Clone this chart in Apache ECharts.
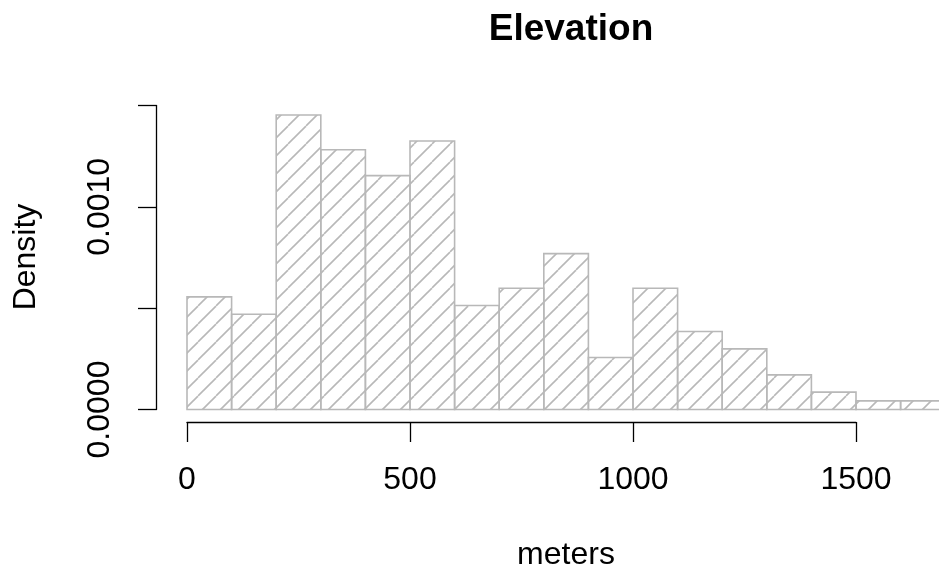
<!DOCTYPE html>
<html>
<head>
<meta charset="utf-8">
<style>
  html, body { margin: 0; padding: 0; background: #ffffff; }
  #chart { width: 939px; height: 573px; }
</style>
<script src="https://cdn.jsdelivr.net/npm/echarts@6/dist/echarts.min.js"></script>
</head>
<body>
<div id="chart"></div>
<script>
// ---- data ----
const breaks = [0, 100, 200, 300, 400, 500, 600, 700, 800, 900, 1000, 1100, 1200, 1300, 1400, 1500, 1600, 1700];
const density = [0.0005556, 0.0004701, 0.001453, 0.001282, 0.001154, 0.001325, 0.0005128, 0.0005983,
                 0.0007692, 0.0002564, 0.0005983, 0.0003846, 0.0002991, 0.0001709, 0.0000855, 0.0000427, 0.0000427];
const xTicks = [0, 500, 1000, 1500];
const yTicks = [0, 0.0005, 0.0010, 0.0015];
const yLabelled = [0, 0.0010];
const titleText = 'Elevation';
const xName = 'meters';
const yName = 'Density';

const FONT = '"Liberation Sans", Arial, Helvetica, sans-serif';

// hatch pattern
function makeHatch() {
  const s = 18;
  const c = document.createElement('canvas');
  c.width = s; c.height = s;
  const g = c.getContext('2d');
  g.strokeStyle = '#b8b8b8';
  g.lineWidth = 1.6;
  for (let k = -1; k <= 1; k++) {
    g.beginPath();
    g.moveTo(k * s, s);
    g.lineTo(k * s + s, 0);
    g.stroke();
  }
  return c;
}
const hatch = { image: makeHatch(), repeat: 'repeat' };

const rows = density.map((d, i) => [breaks[i], breaks[i + 1], d]);

const chart = echarts.init(document.getElementById('chart'), null, { renderer: 'canvas' });
chart.setOption({
  animation: false,
  backgroundColor: '#ffffff',
  title: {
    text: titleText,
    left: 566, top: 24.5,
    textAlign: 'center', textVerticalAlign: 'middle',
    textStyle: { fontFamily: FONT, fontWeight: 'bold', fontSize: 37, color: '#000' }
  },
  grid: { left: 187, width: 669, top: 105.5, height: 304, containLabel: false },
  xAxis: {
    type: 'value', min: xTicks[0], max: xTicks[xTicks.length - 1], interval: 500,
    offset: 12.5,
    axisLine: { show: true, onZero: false, lineStyle: { color: '#000', width: 1.3 } },
    axisTick: { show: true, length: 20, lineStyle: { color: '#000', width: 1.3 } },
    axisLabel: { margin: 42.5, fontFamily: FONT, fontSize: 32, color: '#000',
                 formatter: v => String(v) },
    splitLine: { show: false }
  },
  yAxis: {
    type: 'value', min: yTicks[0], max: yTicks[yTicks.length - 1], interval: 0.0005,
    offset: 31,
    axisLine: { show: true, onZero: false, lineStyle: { color: '#000', width: 1.3 } },
    axisTick: { show: true, length: 18, lineStyle: { color: '#000', width: 1.3 } },
    axisLabel: {
      rotate: 90, margin: 40, fontFamily: FONT, fontSize: 32, color: '#000',
      formatter: v => yLabelled.some(t => Math.abs(t - v) < 1e-9) ? v.toFixed(4) : ''
    },
    splitLine: { show: false }
  },
  graphic: [
    { type: 'text', x: 566, y: 555.6,
      style: { text: xName, font: '32px ' + FONT, fill: '#000', align: 'center', verticalAlign: 'middle' } },
    { type: 'text', x: 26, y: 257, rotation: Math.PI / 2,
      style: { text: yName, font: '32px ' + FONT, fill: '#000', align: 'center', verticalAlign: 'middle' } }
  ],
  series: [{
    type: 'custom',
    clip: false,
    data: rows,
    encode: { x: [0, 1], y: 2 },
    renderItem: function (params, api) {
      const x0 = api.value(0), x1 = api.value(1), y = api.value(2);
      const pTop = api.coord([x0, y]);
      const pBot = api.coord([x1, 0]);
      return {
        type: 'rect',
        shape: { x: pTop[0], y: pTop[1], width: pBot[0] - pTop[0], height: pBot[1] - pTop[1] },
        style: { fill: hatch, stroke: '#b8b8b8', lineWidth: 1.6 }
      };
    }
  }]
});
</script>
</body>
</html>
